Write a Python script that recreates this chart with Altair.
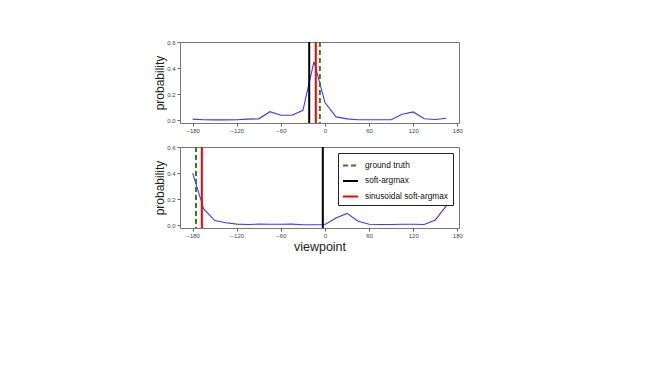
import altair as alt
import pandas as pd

viewpoints = [-180, -165, -150, -135, -120, -105, -90, -75, -60, -45, -30, -15,
              0, 15, 30, 45, 60, 75, 90, 105, 120, 135, 150, 165]
prob_top = [0.008, 0.003, 0.002, 0.002, 0.003, 0.008, 0.010, 0.065, 0.038, 0.037, 0.075, 0.450,
            0.135, 0.025, 0.010, 0.003, 0.003, 0.003, 0.003, 0.045, 0.063, 0.010, 0.005, 0.015]
prob_bottom = [0.400, 0.125, 0.035, 0.018, 0.008, 0.005, 0.008, 0.007, 0.007, 0.008, 0.003, 0.003,
               0.005, 0.055, 0.090, 0.030, 0.007, 0.005, 0.005, 0.007, 0.007, 0.005, 0.040, 0.148]

methods = ["ground truth", "soft-argmax", "sinusoidal soft-argmax"]
top_estimates = [-7.0, -21.5, -12.5]
bottom_estimates = [-175.5, -3.0, -167.5]
method_colors = ["#3c7a28", "#000000", "#ff0000"]
method_dashes = [[5, 3], [1, 0], [1, 0]]

x_ticks = [-180, -120, -60, 0, 60, 120, 180]
y_ticks = [0.0, 0.2, 0.4, 0.6]

FONT = "Liberation Sans"
xscale = alt.Scale(domain=[-197.25, 182.25], nice=False, zero=False)
yscale = alt.Scale(domain=[-0.022, 0.6], nice=False, zero=False)


def panel(probs, estimates, show_legend, show_xtitle):
    curve = pd.DataFrame({"viewpoint": viewpoints, "probability": probs})
    marks = pd.DataFrame({"method": methods, "pos": estimates})
    xaxis = alt.Axis(values=x_ticks, format="d", grid=False, tickSize=3, labelPadding=1.5,
                     title="viewpoint" if show_xtitle else None, titleFontSize=12.5,
                     titleFontWeight="normal", titlePadding=2, titleFont=FONT, titleColor="#222")
    yaxis = alt.Axis(values=y_ticks, format=".1f", grid=False, tickSize=3, labelPadding=2,
                     title="probability", titleFontSize=12, titleFontWeight="normal",
                     titlePadding=0, titleFont=FONT, titleColor="#222")
    line = alt.Chart(curve).mark_line(color="#3b3bff", strokeWidth=1.1).encode(
        x=alt.X("viewpoint:Q", scale=xscale, axis=xaxis),
        y=alt.Y("probability:Q", scale=yscale, axis=yaxis),
    )
    if show_legend:
        leg = alt.Legend(title=None, orient="top-right", offset=6, strokeColor="#222",
                         fillColor="white", padding=4, symbolType="stroke",
                         symbolStrokeWidth=2, symbolSize=225, labelFontSize=8.3,
                         labelFont=FONT, labelColor="#111", rowPadding=2.5,
                         labelOffset=6, cornerRadius=0)
    else:
        leg = None
    rules = alt.Chart(marks).mark_rule(strokeWidth=2).encode(
        x=alt.X("pos:Q", scale=xscale),
        color=alt.Color("method:N", scale=alt.Scale(domain=methods, range=method_colors),
                        legend=leg, sort=methods),
        strokeDash=alt.StrokeDash("method:N",
                                  scale=alt.Scale(domain=methods, range=method_dashes),
                                  legend=leg, sort=methods),
    )
    return alt.layer(line, rules).properties(width=279, height=81)


top = panel(prob_top, top_estimates, False, False)
bottom = panel(prob_bottom, bottom_estimates, True, True)

chart = alt.vconcat(top, bottom, spacing=9).resolve_scale(
    color="independent", strokeDash="independent"
).properties(
    padding={"left": 145, "top": 30, "right": 5, "bottom": 5}
).configure_view(
    stroke="#777", strokeWidth=1
).configure_axis(
    domain=False, tickColor="#666", labelFont=FONT, labelFontSize=6,
    labelColor="#444"
)

chart.save("out.html", embed_options={"renderer": "svg", "actions": False})
